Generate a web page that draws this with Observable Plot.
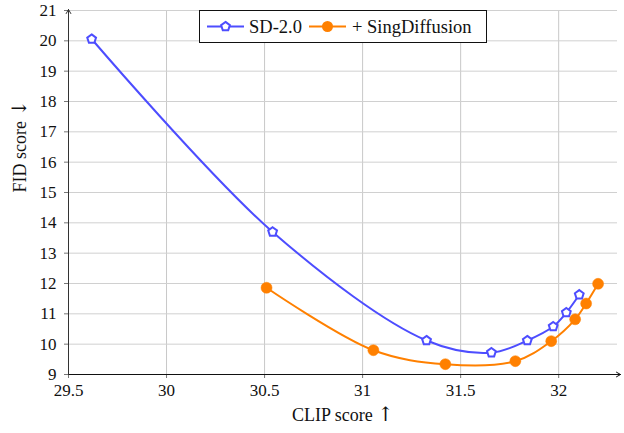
<!DOCTYPE html>
<html>
<head>
<meta charset="utf-8">
<script src="https://cdn.jsdelivr.net/npm/d3@7"></script>
<script src="https://cdn.jsdelivr.net/npm/@observablehq/plot@0.6"></script>
<style>
  html, body { margin: 0; padding: 0; background: #fff; }
  #wrap { position: relative; width: 624px; height: 433px; }
  #legend { position: absolute; left: 199px; top: 10px; }
</style>
</head>
<body>
<div id="wrap"></div>
<script>
// ---- data ----
const seriesNames = ["SD-2.0", "+ SingDiffusion"];
const sdClip = [29.618, 30.541, 31.326, 31.657, 31.840, 31.972, 32.039, 32.105];
const sdFid  = [20.06, 13.70, 10.12, 9.72, 10.12, 10.58, 11.04, 11.63];
const sgClip = [30.51, 31.055, 31.422, 31.779, 31.962, 32.084, 32.140, 32.201];
const sgFid  = [11.86, 9.80, 9.34, 9.44, 10.10, 10.82, 11.34, 11.99];
const xTicks = [29.5, 30, 30.5, 31, 31.5, 32];
const yTicks = [9, 10, 11, 12, 13, 14, 15, 16, 17, 18, 19, 20, 21];
const xDomain = [29.5, 32.3];
const yDomain = [9, 21];
const xLabel = "CLIP score ↑";
const yLabel = "FID score ↓";

const blue = "#4d4dff";
const orange = "#ff8000";
const font = "Liberation Serif, DejaVu Serif, serif";

const sd = sdClip.map((x, i) => ({x, y: sdFid[i]}));
const sg = sgClip.map((x, i) => ({x, y: sgFid[i]}));

const pentagon = {
  draw(ctx, size) {
    const R = Math.sqrt(size / Math.PI) * 1.1;
    for (let i = 0; i < 5; i++) {
      const a = -Math.PI / 2 + i * 2 * Math.PI / 5;
      const px = R * Math.cos(a), py = R * Math.sin(a);
      if (i === 0) ctx.moveTo(px, py); else ctx.lineTo(px, py);
    }
    ctx.closePath();
  }
};

const chart = Plot.plot({
  width: 624,
  height: 433,
  marginLeft: 68,
  marginRight: 7,
  marginTop: 10,
  marginBottom: 59,
  style: {fontFamily: font, fontSize: "17px", color: "#111", background: "#fff"},
  x: {domain: xDomain},
  y: {domain: yDomain},
  marks: [
    Plot.gridX(xTicks, {stroke: "#c8c8c8", strokeOpacity: 1, strokeWidth: 1}),
    Plot.gridY(yTicks, {stroke: "#d0d0d0", strokeOpacity: 1, strokeWidth: 1}),
    Plot.axisX(xTicks, {tickSize: 4, tickPadding: 5, tickFormat: d => String(d), label: null, stroke: "#777", fontSize: 17, fill: "#111"}),
    Plot.axisY(yTicks, {tickSize: 4, tickPadding: 8, tickFormat: d => String(d), label: null, stroke: "#777", fontSize: 17, fill: "#111"}),
    Plot.arrow([0], {x1: () => xDomain[0], y1: () => yDomain[0], x2: () => xDomain[1], y2: () => yDomain[0], stroke: "#111", strokeWidth: 1, headLength: 7, insetEnd: -3}),
    Plot.arrow([0], {x1: () => xDomain[0], y1: () => yDomain[0], x2: () => xDomain[0], y2: () => yDomain[1], stroke: "#333", strokeWidth: 1, headLength: 7, insetEnd: -1}),
    Plot.text([xLabel], {frameAnchor: "bottom", dy: 46, fontSize: 18, fill: "#111"}),
    Plot.text([yLabel], {frameAnchor: "left", dx: -48, rotate: -90, fontSize: 18, fill: "#111"}),
    Plot.line(sg, {x: "x", y: "y", curve: "catmull-rom", stroke: orange, strokeWidth: 2}),
    Plot.line(sd, {x: "x", y: "y", curve: "catmull-rom", stroke: blue, strokeWidth: 2}),
    Plot.dot(sg, {x: "x", y: "y", r: 5.5, fill: orange, stroke: orange, strokeWidth: 0.5}),
    Plot.dot(sd, {x: "x", y: "y", r: 4.2, symbol: pentagon, fill: "white", stroke: blue, strokeWidth: 2})
  ]
});

const wrap = document.getElementById("wrap");
wrap.appendChild(chart);

// ---- legend (overlay) ----
const lg = d3.select(wrap).append("svg")
  .attr("id", "legend").attr("width", 289).attr("height", 34);
lg.append("rect").attr("x", 0.5).attr("y", 0.5).attr("width", 287).attr("height", 32)
  .attr("fill", "white").attr("stroke", "#111").attr("stroke-width", 1);
const items = [
  {name: seriesNames[0], color: blue, x0: 8, tx: 50, kind: "pent"},
  {name: seriesNames[1], color: orange, x0: 110, tx: 153, kind: "dot"}
];
items.forEach(it => {
  lg.append("line").attr("x1", it.x0).attr("x2", it.x0 + 37).attr("y1", 16.5).attr("y2", 16.5)
    .attr("stroke", it.color).attr("stroke-width", 2);
  const cx = it.x0 + 18.5;
  if (it.kind === "pent") {
    lg.append("path").attr("transform", `translate(${cx},16.5)`)
      .attr("d", d3.symbol(pentagon, 4.2 * 4.2 * Math.PI)())
      .attr("fill", "white").attr("stroke", it.color).attr("stroke-width", 2);
  } else {
    lg.append("circle").attr("cx", cx).attr("cy", 16.5).attr("r", 5.5).attr("fill", it.color);
  }
  lg.append("text").attr("x", it.tx).attr("y", 22.5).attr("fill", "#111")
    .style("font-size", "18.5px").text(it.name);
});

// serif font everywhere; larger arrow glyphs in the axis titles
wrap.querySelectorAll("text").forEach(t => {
  t.style.fontFamily = font;
  t.style.fontVariant = "normal";
  const s = t.textContent;
  const m = s.match(/^(.*?)([↑↓])$/);
  if (m && t.children.length === 0) {
    t.textContent = "";
    const ns = "http://www.w3.org/2000/svg";
    const a = document.createElementNS(ns, "tspan");
    a.textContent = m[1];
    const b = document.createElementNS(ns, "tspan");
    b.textContent = m[2];
    b.style.fontFamily = "DejaVu Serif, serif";
    b.style.fontSize = "20px";
    t.appendChild(a); t.appendChild(b);
  }
});
</script>
</body>
</html>
